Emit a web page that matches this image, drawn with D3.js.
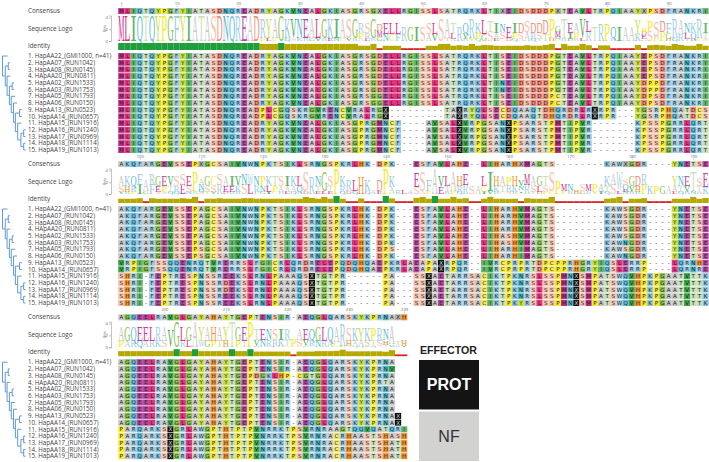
<!DOCTYPE html>
<html>
<head>
<meta charset="utf-8">
<script src="https://cdn.jsdelivr.net/npm/d3@7"></script>
<style>
  html, body { margin: 0; padding: 0; background: #fff; }
</style>
</head>
<body>
<div id="chart"></div>
<script>
// haplotype names, same order in all 3 blocks
const haplotypes = ["1. HapAA22_(GMI1000, n=41)", "2. HapAA07_(RUN1042)", "3. HapAA08_(RUN0145)", "4. HApAA20_(RUN0811)",
    "5. HapAA02_(RUN1533)", "6. HapAA03_(RUN1753)", "7. HapAA05_(RUN1793)", "8. HapAA06_(RUN0150)", "9. HapAA13_(RUN0523)",
    "10. HapAA14_(RUN0657)", "11. HapAA15_(RUN1916)", "12. HapAA16_(RUN1240)", "13. HapAA17_(RUN0969)",
    "14. HapAA18_(RUN1114)", "15. HapAA19_(RUN1013)"];

// * is the black "unknown" cell
const consensus1 = "MLIQTQYPGF YIATASDNQR EADRYAGKVN EALGKIASGR SGXELLRGIS SLSATRQRKL TIXEIDSDDD PXTEAVLTRP QIAAYXPSDF RANKRI";
const rows1 = [
    "MLIQTQYPGF YIATASDNQR EADRYAGKVN EALGKIASGR SGDELLRGIS SLSATRQRKL TISEIDSDDD PGTEAVLTRP QIAAYEPSDF RANKRI",
    "MLIQTQYPGF YIATASDNQR EADRYAGKVN EALGKIASGR SGDELLRGIS SLSATRQRKL TISEIDSDDD PGTEAVLTRP QIAAYEPSDF RANKRI",
    "MLIQTQYPGF YIATASDNQR EADRYAGKVN EALGKIASGR SGDELLRGIS SLSATRQRKL TISEIDSDDD PGTEAVLTRP QIAAYEPSDF RANKRI",
    "MLIQTQYPGF YIATASDNQR EADRYAGKVN EALGKIASGR SGDELLRGIS SLSATRQRKL TISEIDSDDD PGTEAVLTRP QIAAYEPSDF RANKRI",
    "MLIQTQYPGF YIATASDNQR EADRYAGKVN EALGKIASGR SGDELLRGIS SLSATRQRKL TINEIDSDDD PGTEAVLTRP QIAAYDPPDF RANKRI",
    "MLIQTQYPGF YIATASDNQR EADRYAGKVN EALGKIASGR SGDELLRGIS SLSATRQRKL TINEIDSDDD PGTEAVLTRP QIAAYDPPDF RANKRI",
    "MLIQTQYPGF YIATASDNQR EADRYAGKVN EALGKIASGR SGGELLRGIS SLSATRQRKL TISEIDSDDD PCTEAVLTRP QIAAYDPSDF RANKRI",
    "MLIQTQYPGF YIATASDNQR EADRYAGKVN EALGKIASGR SGGELLRGIS SLSATRQRKL TISEIDSDDD PCTEAVLTRP QIAAYDPSDF RANKRI",
    "MLIQTQYPGF YIATASDNQR EADPLCGQSK RGVRENCVRA LRG*------ ---TA*RYQL SECDQAAQTD HQRDRLR*RP R---YGSRPH QATDCS",
    "MLIQTQYPGF YIATASDNQR EADPLCGQSK RGVRENCVRA LRG*------ ---TA*RYQL SECDQAAQTD HQRDRLR*RP R---YGSRPH QATDCS",
    "MLIQTQYPGF YIATASDNQR EADRYAGKVN EALGKIASGP RGMNCF---- AVSAL*VRPG SAN*PSARST PMTIPVR--- ----KPSSPG RRLQRT",
    "MLIQTQYPGF YIATASDNQR EADRYAGKVN EALGKIASGP RGMNCF---- AVSAL*VRPG SAN*PSARST PMTIPVR--- ----KPSSPG RRLQRT",
    "MLIQTQYPGF YIATASDNQR EADRYAGKVN EALGKIASGP RGMNCF---- AVSAL*VRPG SAN*PSARST PMTIPVR--- ----KPSSPG RRLQRT",
    "MLIQTQYPGF YIATASDNQR EADRYAGKVN EALGKIASGP RGMNCF---- AVSAL*VRPG SAN*PSARST PMTIPVR--- ----KPSSPG RRLQRT",
    "MLIQTQYPGF YIATASDNQR EADRYAGKVN EALGKIASGP RGMNCF---- AVSAL*VRPG SAN*PSARST PMTIPVR--- ----KPSSPG RRLQRT"
];
const ticks1 = [1, 10, 20, 30, 40, 50, 60, 70, 80, 90];

const consensus2 = "AKQFARGEVS SEPXGCSAIV NWNPKTSIKL SRNGSPKRLH K-DPK---ES FAVLAHE--L IHARHXMAGT S--------K AWXGDR---- YNETSE";
const rows2 = [
    "AKQFARGEVS SEPAGCSAIV NWNPKTSIKL SRNGSPKRLH K-DPK---ES FAVLAHE--L IHARHVMAGT S--------K AWSGDR---- YNETSE",
    "AKQFARGEVS SEPAGCSAIV NWNPKTSIKL SRNGSPKRLH K-DPK---ES FAVLAHE--L IHARHVMAGT S--------K AWSGDR---- YNETSE",
    "AKQFARGEVS SEPAGCSAIV NWNPKTSIKL SRNGSPKRLH K-DPK---ES FAVLAHE--L IHARHVMAGT S--------K AWSGDR---- YNETSE",
    "AKQFARGEVS SEPAGCSAIV NWNPKTSIKL SRNGSPKRLH K-DPK---ES FAVLAHE--L IHARHVMAGT S--------K AWSGDR---- YNETSE",
    "AKQFARGEVS SEPAGCSAIV NWNPKTSIKL SRNGSPKRLH K-DPK---ES FAVLAHE--L IHASHVMAGT S--------K AWSGDR---- YNETSE",
    "AKQFARGEVS SEPAGCSAIV NWNPKTSIKL SRNGSPKRLH K-DPK---ES FAVLAHE--L IHASHVMAGT S--------K AWNGDR---- YNETSE",
    "AKQFARGEVS SEPSGCSAIV NWNPKTSIKL SRNGSPKRLH K-DPS---ES FAVLAHE--L IHARHIMAGT S--------K AWSGDR---- YNETSE",
    "AKQFARGEVS SEPSGCSAIV NWNPKTSIKL SRNGSPKRLH K-DPK---ES FAVLAHE--L IHARHIMAGT S--------K AWNGDR---- YNETSE",
    "VRPIGFSSQQ ENRQTVRERR SLFGICRLQR DRELEPQDQH QAEPKRLAEA PA*RPQR--I VRCPRPRTDP CPPRHGRYIQ SLERRP---- LQRNHE",
    "VRPIGFSSQQ ENRQTVRERR SLFGICRLQR DRELEPQDQH QAEPKRLAEA PA*RPQR--I VRCPRPRTDP CPPRHGRYIQ SLERRP---- LQRNRE",
    "SHRI-FEPTR ESPNSSREEK SLRNLPAAAQ S*TGTPR--- ---PA---SS *AETARRSAC IKTPKNRSLS SPMN*SMPAT SWQVHPKPGA ATVTTK",
    "SHRI-FEPTR ESPNSSRDEK SLRNLPAAAQ S*TGTPR--- ---PA---SS *AETARRSAC IKTPKNRSLS SPMN*SMPAT SWQVHPKPGA ATVTTK",
    "SHRI-FEPTR ESPNSSRDEK SLRNLPAAAQ S*TGTPR--- ---PA---SS *AETARRSAC IKTPKNRSLS SPMN*SMPAT SWQVHPKPGA ATVTTK",
    "SHRI-FEPTR ESPNSSREEK SLRNLPAAAQ S*TGTPR--- ---PA---SS *AETARRSAC IKTPKNRSLS SPMN*SMPAT SWQVHPKPGA ATVTTK",
    "SHRI-FEPTR ESPNSSREEK SLRNLPAAAQ S*TGTPR--- ---PA---SS *AETARRSAC IKTPKYRSLS SPMN*SMPAT SWQVHPKPGA ATVTTK"
];
const ticks2 = [100, 110, 120, 130, 140, 150, 160, 170, 180, 190];

const consensus3 = "AGQEELRAVG LGAYAHAYTG EPTENSIR-A EQGLQARSKY KPRNAXH";
const rows3 = [
    "AGQEELRAVG LGAYAHAYTG EPTENSIR-A EQGLQARSKY KPRNA",
    "AGQEELRAVG LGAYAHAYTG EPTENSIR-A EQGLQARSKY KPRNV",
    "AGQEELRAVG LGAYAHAYTG EPDGKLHP-C GTGLQARSKY KPRNA",
    "AGQEELRAVG LGAYAHAYTG EPTENSIR-A EQGLQARSKY KPRTA",
    "AGQEELRAVG LGAYAHAYTG EPTENSIR-A EQGLQARSKY KPRNA",
    "AGQEELRAVG LGAYAHAYTG EPTENSIR-A EQGLQARSKY KPRNA",
    "AGQEELRAVG LGAYAHAYTG EPTENSIR-A EQGLQARSKY KPRNA",
    "AGQEELRAVG LGAYAHAYTG EPTENSIR-A EQGLQARSKY KPRNA",
    "AGQEELRAVG LGAYAHAYTG EPTENSIR-A EQGLQARSKY KPRNA*",
    "AGQEELRAVG LGAYAHAYTG EPTENSIR-A EQGLQARSKY KPRNA*",
    "PARQARKS*G RLAWGPTHTP TPVNRRKTPS VRNRAAGTQQ VQATQRI",
    "PARQARKS*G RLAWGPTHTP TPVNRRKTPS VRNRACRHAA STSHASH",
    "PARQARKS*G RLAWGPTHTP TPVNRRKTPS VRNRACRHAA STSHATH",
    "PARQARKS*G RLAWGPTHTP TPVNRRKTPS VRNRACRHAA STSHATH",
    "PARQARKS*G RLAWGPTHTP TPVNRRKTPS VRNRACRHAA STSHATH"
];
const ticks3 = [200, 210, 220, 230, 239];

const bitTicks = [0, 2, 4];
const legendLabels = ["PROT", "NF"];

// tree: branch depth of each node, leaves hold the row number
const tree = {d: 0, c: [
    {d: 2.2, row: 0},
    {d: 1.2, c: [
        {d: 2.5, c: [{d: 3.2, row: 1}, {d: 3.2, row: 2}]},
        {d: 2, c: [
            {d: 3.4, row: 3},
            {d: 3, c: [
                {d: 4.2, c: [{d: 5, row: 4}, {d: 5, row: 5}]},
                {d: 3.8, c: [
                    {d: 5.5, row: 6},
                    {d: 4.8, c: [
                        {d: 6.3, row: 7},
                        {d: 5.6, c: [
                            {d: 7.4, c: [{d: 8.4, row: 8}, {d: 8.4, row: 9}]},
                            {d: 6.6, c: [
                                {d: 8.2, row: 10},
                                {d: 8, c: [
                                    {d: 9.2, c: [{d: 10, row: 11}, {d: 10, row: 12}]},
                                    {d: 9.2, c: [{d: 10, row: 13}, {d: 10, row: 14}]}
                                ]}
                            ]}
                        ]}
                    ]}
                ]}
            ]}
        ]}
    ]}
]};

// residue colours
const residueColor = {
    A: "#c9c9c9", R: "#a3d0e6", N: "#55b8c8", D: "#f08c7c", C: "#f6e85a", Q: "#62bbd8", E: "#b5479f",
    G: "#8cc152", H: "#f0922c", I: "#61b56a", L: "#e5337f", K: "#8fc6e2", M: "#c2308c", F: "#9ecae1",
    P: "#f7ea2e", S: "#f6c3ae", T: "#c8e0b8", W: "#a9d3e8", Y: "#c9e03c", V: "#3da84a", X: "#b0b0b0"
};

const width = 709;
const height = 462;
const colStep = 6.15;
const left = 118.2;

const svg = d3.select("#chart").append("svg")
    .attr("width", width)
    .attr("height", height)
    .style("display", "block");

const clean = s => s.replace(/ /g, "");

const y = d3.scaleBand()
    .domain(d3.range(haplotypes.length))
    .range([53, 153])
    .paddingInner(0.1);

const treeX = d3.scaleLinear().domain([0, 10]).range([2.5, 25.5]);

// bits and identity worked out per column from the rows
function columnStats(rows, i) {
    const chars = rows.map(r => r[i] || "-");
    const residues = chars.filter(c => c !== "-");
    const counts = d3.rollups(residues.filter(c => c !== "*"), v => v.length, c => c)
        .sort((a, b) => d3.ascending(a[1], b[1]));
    const n = d3.sum(counts, c => c[1]);
    const entropy = d3.sum(counts, c => -(c[1] / n) * Math.log2(c[1] / n));
    const bits = n ? (Math.log2(20) - entropy) * n / chars.length : 0;
    var pairs = 0, same = 0;
    for (var a = 0; a < chars.length; a++) {
        for (var b = a + 1; b < chars.length; b++) {
            pairs++;
            if (chars[a] === chars[b] && chars[a] !== "-") same++;
        }
    }
    return {counts: counts, n: n, bits: bits, identity: same / pairs};
}

function drawCells(g, text, cy, cellH, x) {
    const cols = text.split("").map((c, i) => ({c: c, i: i}));
    g.selectAll("rect").data(cols.filter(d => d.c !== "-")).enter()
        .append("rect")
        .attr("x", d => x(d.i))
        .attr("y", cy)
        .attr("width", x.bandwidth() + 0.05)
        .attr("height", cellH)
        .attr("fill", d => d.c === "*" ? "#111" : residueColor[d.c]);
    g.selectAll("text").data(cols).enter()
        .append("text")
        .attr("x", d => x(d.i) + x.bandwidth() / 2)
        .attr("y", cy + cellH / 2 + 2)
        .attr("text-anchor", "middle")
        .attr("font-family", "DejaVu Sans")
        .attr("font-size", 5.5)
        .attr("fill", d => d.c === "*" ? "#ddd" : "#222")
        .text(d => d.c === "*" ? "X" : d.c);
}

function drawBlock(top, consensus, rowsRaw, firstCol, tickValues) {
    const rows = rowsRaw.map(clean);
    const cons = clean(consensus);
    const n = cons.length;
    const block = svg.append("g").attr("transform", "translate(0," + top + ")");

    const x = d3.scaleBand().domain(d3.range(n)).range([left, left + n * colStep]);
    const bits = d3.scaleLinear().domain([0, 4.32]).range([41, 15.5]);
    const idH = d3.scalePow().exponent(0.5).domain([0, 1]).range([0, 7]);

    // names on the left
    const labelFont = "Open Sans";
    [["Consensus", 13.2], ["Sequence Logo", 30.5], ["Identity", 48]].forEach(d => {
        block.append("text").attr("x", 28).attr("y", d[1])
            .attr("font-family", labelFont).attr("font-size", 6.3).attr("fill", "#444").text(d[0]);
    });
    block.selectAll(".hap").data(haplotypes).enter().append("text")
        .attr("class", "hap")
        .attr("x", 28)
        .attr("y", (d, i) => y(i) + y.bandwidth() / 2 + 2.2)
        .attr("font-family", labelFont).attr("font-size", 6.2).attr("fill", "#444")
        .text(d => d);

    // position ticks on top
    const axisTop = d3.axisTop(d3.scaleLinear().domain([firstCol, firstCol + n - 1])
            .range([left + colStep / 2, left + (n - 0.5) * colStep]))
        .tickValues(tickValues).tickSize(1.5).tickPadding(0.5).tickFormat(d3.format("d"));
    const ax = block.append("g").attr("transform", "translate(0,7)").call(axisTop);
    ax.select(".domain").remove();
    ax.selectAll("line").attr("stroke", "#999").attr("stroke-width", 0.5);
    ax.selectAll("text").attr("font-family", labelFont).attr("font-size", 4.2).attr("fill", "#666");

    // consensus row
    drawCells(block.append("g"), cons, 8.1, 6, x);

    // logo
    const axisBits = d3.axisLeft(bits).tickValues(bitTicks).tickSize(2).tickPadding(1).tickFormat(d3.format("d"));
    const bx = block.append("g").attr("transform", "translate(111,0)").call(axisBits);
    bx.select(".domain").attr("stroke", "#888").attr("stroke-width", 0.5);
    bx.selectAll("line").attr("stroke", "#888").attr("stroke-width", 0.5);
    bx.selectAll("text").attr("font-family", labelFont).attr("font-size", 4.2).attr("fill", "#666");
    block.append("text").attr("transform", "translate(105.5,28.5) rotate(-90)")
        .attr("text-anchor", "middle").attr("font-family", labelFont).attr("font-size", 4.2)
        .attr("fill", "#666").text("Bits");

    const logo = block.append("g");
    const stats = d3.range(n).map(i => columnStats(rows, i));
    stats.forEach((s, i) => {
        var base = bits(0);
        s.counts.forEach(c => {
            const h = (bits(0) - bits(s.bits)) * c[1] / s.n;
            if (h < 0.3) return;
            const t = logo.append("text")
                .attr("font-family", "Liberation Serif")
                .attr("font-size", 10)
                .attr("text-anchor", "middle")
                .attr("fill", residueColor[c[0]])
                .text(c[0]);
            const w = t.node().getComputedTextLength();
            t.attr("transform", "translate(" + (x(i) + x.bandwidth() / 2) + "," + base + ") scale("
                + (x.bandwidth() / w) + "," + (h / 6.6) + ")");
            base -= h;
        });
    });

    // identity bar
    block.selectAll(".idbar").data(stats).enter().append("rect")
        .attr("class", "idbar")
        .attr("x", (s, i) => x(i))
        .attr("width", x.bandwidth() + 0.05)
        .attr("y", s => 50 - (s.identity < 0.3 ? 1.8 : idH(s.identity)))
        .attr("height", s => s.identity < 0.3 ? 1.8 : idH(s.identity))
        .attr("fill", s => s.identity === 1 ? "#1f9e3c" : s.identity < 0.3 ? "#d8232a" : "#b5a800");

    // alignment
    rows.forEach((r, i) => drawCells(block.append("g"), r, y(i), y.bandwidth(), x));

    // dendrogram
    const root = d3.hierarchy(tree, d => d.c);
    root.eachAfter(node => {
        node.cy = node.children ? d3.mean(node.children, c => c.cy) : y(node.data.row) + y.bandwidth() / 2;
    });
    const links = block.append("g").attr("fill", "none").attr("stroke", "#4f8ed0").attr("stroke-width", 0.9);
    links.selectAll("path").data(root.links()).enter().append("path")
        .attr("d", l => "M" + treeX(l.source.data.d) + "," + l.source.cy
            + "V" + l.target.cy + "H" + treeX(l.target.data.d));
}

drawBlock(0, consensus1, rows1, 1, ticks1);
drawBlock(153, consensus2, rows2, 97, ticks2);
drawBlock(306.2, consensus3, rows3, 193, ticks3);

// effector legend
svg.append("text").attr("x", 420).attr("y", 354)
    .attr("font-family", "Liberation Sans").attr("font-weight", "bold").attr("font-size", 10.6)
    .attr("fill", "#222").text("EFFECTOR");

const legendY = d3.scaleBand().domain(legendLabels).range([360, 461]).paddingInner(0.04);
const legendColors = d3.scaleOrdinal().domain(legendLabels).range(["#141414", "#d2d2d0"]);
const legendText = d3.scaleOrdinal().domain(legendLabels).range(["#fff", "#333"]);

svg.selectAll(".legend").data(legendLabels).enter().append("rect")
    .attr("class", "legend")
    .attr("x", 419)
    .attr("y", d => legendY(d))
    .attr("width", 60)
    .attr("height", legendY.bandwidth())
    .attr("fill", d => legendColors(d));
svg.selectAll(".legendtext").data(legendLabels).enter().append("text")
    .attr("class", "legendtext")
    .attr("x", 449)
    .attr("y", d => legendY(d) + legendY.bandwidth() / 2 + 5.5)
    .attr("text-anchor", "middle")
    .attr("font-family", "Liberation Sans")
    .attr("font-weight", d => d === "PROT" ? "bold" : "normal")
    .attr("font-size", 16)
    .attr("fill", d => legendText(d))
    .text(d => d);
</script>
</body>
</html>
